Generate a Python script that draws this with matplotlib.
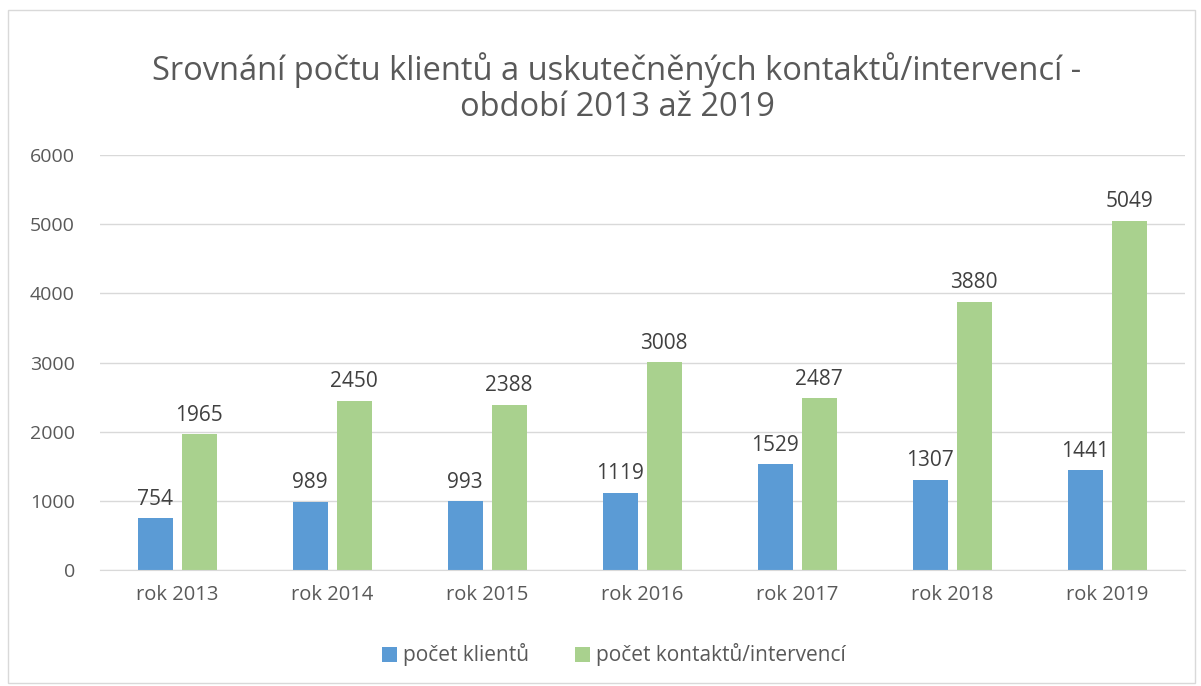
import matplotlib
matplotlib.use("Agg")
import matplotlib.pyplot as plt
import numpy as np
from matplotlib.patches import Rectangle

categories = ["rok 2013", "rok 2014", "rok 2015", "rok 2016", "rok 2017", "rok 2018", "rok 2019"]
klienti = [754, 989, 993, 1119, 1529, 1307, 1441]
kontakty = [1965, 2450, 2388, 3008, 2487, 3880, 5049]
series_names = ["počet klientů", "počet kontaktů/intervencí"]
yticks = [0, 1000, 2000, 3000, 4000, 5000, 6000]

plt.rcParams['font.family'] = ['Open Sans', 'DejaVu Sans']

fig = plt.figure(figsize=(12.01, 6.86), dpi=100)
fig.patch.set_facecolor("white")
fig.add_artist(Rectangle((8/1201, 1 - 683/686), 1187/1201, 673/686, transform=fig.transFigure,
                         fill=False, edgecolor="#d9d9d9", linewidth=1))

ax = fig.add_axes([100/1201, 1 - 570/686, 1085/1201, 415/686])
x = np.arange(len(categories))
w = 0.226
b1 = ax.bar(x - 0.145, klienti, w, color="#5B9BD5", label=series_names[0])
b2 = ax.bar(x + 0.14, kontakty, w, color="#A9D18E", label=series_names[1])

for bars in (b1, b2):
    for r in bars:
        ax.annotate(f"{int(r.get_height())}", (r.get_x() + r.get_width()/2, r.get_height()),
                    xytext=(0, 6), textcoords="offset points", ha="center", va="bottom",
                    fontsize=15, color="#404040")

ax.set_xlim(-0.5, len(categories) - 0.5)
ax.set_ylim(0, 6000)
ax.set_yticks(yticks)
ax.set_yticklabels([str(t) for t in yticks], fontsize=14, color="#595959")
ax.set_xticks(x)
ax.set_xticklabels(categories, fontsize=14.5, color="#595959")
ax.tick_params(axis="x", length=0, pad=11)
ax.tick_params(axis="y", length=0, pad=18)
ax.grid(axis="y", color="#d9d9d9", linewidth=1)
ax.set_axisbelow(True)
for s in ["top", "right", "left"]:
    ax.spines[s].set_visible(False)
ax.spines["bottom"].set_color("#d9d9d9")

fig.text(617/1201, 1 - 70/686, "Srovnání počtu klientů a uskutečněných kontaktů/intervencí -",
         ha="center", va="center", fontsize=23.5, color="#595959")
fig.text(617/1201, 1 - 108/686, "období 2013 až 2019",
         ha="center", va="center", fontsize=23.5, color="#595959")

fig.legend(handles=[b1, b2], loc="center", bbox_to_anchor=(614/1201, 1 - 655/686), ncol=2,
           frameon=False, fontsize=15, handlelength=0.7, handleheight=0.7, handletextpad=0.3,
           columnspacing=2.2, labelcolor="#595959")

fig.savefig("out.png", dpi=100)
